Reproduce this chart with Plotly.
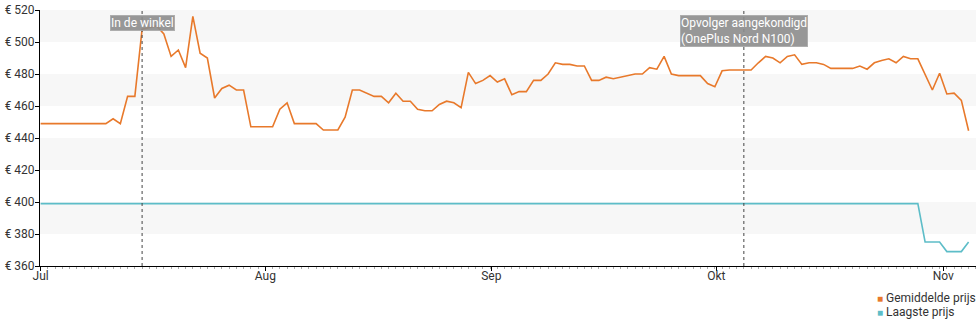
import pandas as pd
import plotly.graph_objects as go

# ---- data ----
start_date = "2020-07-01"
avg_price = [
    # Jul 1-31
    449, 449, 449, 449, 449, 449, 449, 449, 449, 449,
    452, 449, 466, 466, 508, 509, 510, 505, 491, 495,
    484, 516, 493, 490, 465, 471, 473, 470, 470, 447, 447,
    # Aug 1-31
    447, 447, 458, 462, 449, 449, 449, 449, 445, 445,
    445, 453, 470, 470, 468, 466, 466, 462, 468, 463,
    463, 458, 457, 457, 461, 463, 462, 459, 481, 474, 476,
    # Sep 1-30
    479, 475, 477, 467, 469, 469, 476, 476, 480, 487,
    486, 486, 485, 485, 476, 476, 478, 477, 478, 479,
    480, 480, 484, 483, 491, 480, 479, 479, 479, 479,
    # Okt 1-31
    474, 472, 482, 482.5, 482.5, 482.5, 482.5, 487, 491, 490,
    487, 491, 492, 486, 487, 487, 486, 483.5, 483.5, 483.5,
    483.5, 485, 483, 487, 488.5, 489.5, 487, 491, 489.5, 489.5, 480,
    # Nov 1-6
    470, 480.5, 467.5, 468, 463.5, 444.5,
]
low_price = [399] * 122 + [375, 375, 375, 369, 369, 369, 375]

series_names = ["Gemiddelde prijs", "Laagste prijs"]
series_colors = ["#e8792b", "#5dbdc8"]

y_ticks = [360, 380, 400, 420, 440, 460, 480, 500, 520]
y_tick_text = ["€ %d" % v for v in y_ticks]
x_tick_vals = ["2020-07-01", "2020-08-01", "2020-09-01 04:00",
               "2020-10-02 05:00", "2020-11-02 12:00"]
x_tick_text = ["Jul", "Aug", "Sep", "Okt", "Nov"]

event_dates = ["2020-07-15", "2020-10-06"]
event_labels = ["In de winkel", "Opvolger aangekondigd<br>(OnePlus Nord N100)"]

dates = pd.date_range(start_date, periods=len(avg_price), freq="D")

fig = go.Figure()
for vals, name, col in zip([avg_price, low_price], series_names, series_colors):
    fig.add_trace(go.Scatter(
        x=dates, y=vals, mode="lines", name=name,
        line=dict(color=col, width=1.6), showlegend=False,
        hoverinfo="x+y",
    ))

# alternating background bands
shapes = []
for i in range(len(y_ticks) - 1):
    if i % 2 == 1:
        shapes.append(dict(type="rect", xref="paper", x0=0, x1=1,
                           yref="y", y0=y_ticks[i], y1=y_ticks[i + 1],
                           fillcolor="#f7f7f7", line=dict(width=0),
                           layer="below"))
# event lines
for d in event_dates:
    shapes.append(dict(type="line", xref="x", x0=d, x1=d,
                       yref="paper", y0=0, y1=1,
                       line=dict(color="#444444", width=1, dash="dot")))

annotations = []
for d, lab in zip(event_dates, event_labels):
    annotations.append(dict(
        x=d, xref="x", y=1, yref="paper", yanchor="top", xanchor="center",
        yshift=-5, text=lab, showarrow=False, align="left",
        font=dict(family="Roboto", size=12, color="white"),
        bgcolor="rgba(140,140,140,0.9)", bordercolor="rgba(170,170,170,0.9)",
        borderwidth=1, borderpad=0,
    ))

# legend (below the plot, bottom right) as text with coloured swatches
for k, (name, col) in enumerate(zip(series_names, series_colors)):
    annotations.append(dict(
        xref="paper", x=0.892, xanchor="left",
        yref="paper", y=-0.125, yanchor="middle", yshift=-14 * k,
        text="<span style='color:%s;font-size:10px'>■</span> %s" % (col, name),
        showarrow=False, align="left",
        font=dict(family="Roboto", size=12, color="#333333"),
    ))

fig.update_layout(
    width=980, height=325,
    margin=dict(l=40, r=4, t=10, b=59),
    paper_bgcolor="white", plot_bgcolor="white",
    font=dict(family="Roboto", size=12, color="#333333"),
    shapes=shapes, annotations=annotations,
    showlegend=False,
    xaxis=dict(
        type="date",
        range=["2020-06-30 22:00", "2020-11-07 00:30"],
        tickmode="array", tickvals=x_tick_vals, ticktext=x_tick_text,
        showline=True, linecolor="black", linewidth=1,
        ticks="outside", ticklen=4, tickcolor="black",
        ticklabelstandoff=-5,
        showgrid=False, zeroline=False,
        tickfont=dict(size=12, color="#333333"),
        minor=dict(ticks="outside", ticklen=2, tickcolor="#aaaaaa",
                   tickmode="linear", tick0="2020-07-01", dtick=86400000,
                   showgrid=False),
    ),
    yaxis=dict(
        range=[360, 520], tickmode="array", tickvals=y_ticks,
        ticktext=y_tick_text,
        showline=True, linecolor="black", linewidth=1,
        ticks="outside", ticklen=4, tickcolor="black",
        ticklabelstandoff=-2,
        showgrid=False, zeroline=False,
        tickfont=dict(size=12, color="#333333"),
    ),
)

fig.write_html("out.html")
